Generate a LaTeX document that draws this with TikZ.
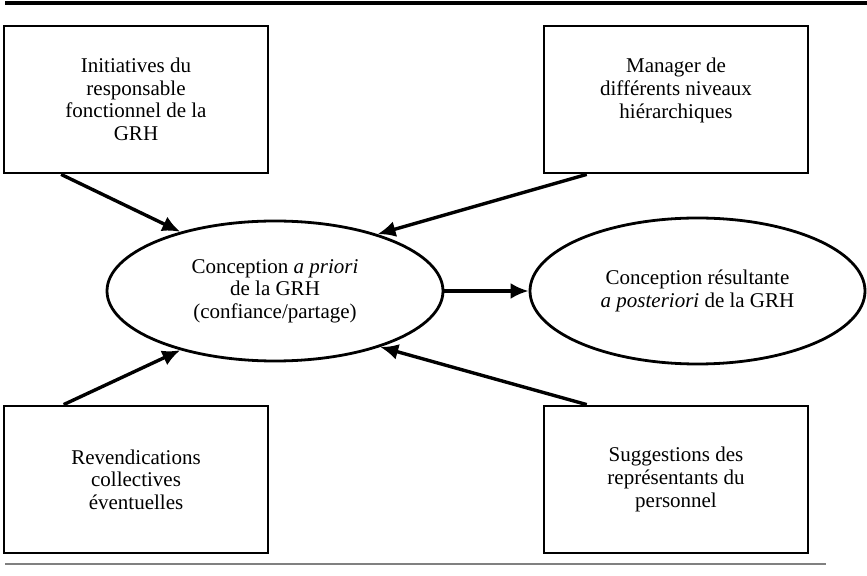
\documentclass[tikz,border=0pt]{standalone}
\usepackage{fontspec}
\setmainfont{Liberation Serif}
\usetikzlibrary{shapes, arrows.meta, positioning}
\tikzstyle{block} = [draw, fill=white, rectangle, line width=1.4pt, minimum width=132pt, minimum height=73.5pt, align=center]
\tikzstyle{oval} = [draw, ellipse, line width=1.4pt, inner sep=0pt, align=center]
\tikzstyle{link} = [->, line width=1.7pt]

\begin{document}
\begin{tikzpicture}[auto,node distance=.5cm,>={Latex[length=9pt,width=8pt]},font=\fontsize{10.5}{11.3}\selectfont]
  \useasboundingbox (0,0) rectangle (433.5pt,-288pt);
  % rules above and below
  \draw [line width=2pt] (2.5pt,-1.5pt) -- (433.5pt,-1.5pt);
  \draw [gray, line width=1pt] (2.5pt,-282pt) -- (413pt,-282pt);
  % the two conceptions
  \node [oval, minimum width=168pt, minimum height=70pt] (prior) at (137.5pt,-145.5pt) {Conception \textit{a priori}\\de la GRH\\(confiance/partage)};
  \node [oval, right of=prior, node distance=211.25pt, minimum width=167.5pt, minimum height=73pt] (posterior) {Conception résultante\\\textit{a posteriori} de la GRH};
  % the four sources
  \node [block, above of=prior, node distance=95.75pt, xshift=-69.5pt] (initiatives) {Initiatives du\\responsable\\fonctionnel de la\\GRH};
  \node [block, above of=prior, node distance=95.75pt, xshift=200.5pt] (managers) {Manager de\\différents niveaux\\hiérarchiques\\\mbox{}};
  \node [block, below of=prior, node distance=94.25pt, xshift=-69.5pt] (revendications) {Revendications\\collectives\\éventuelles};
  \node [block, below of=prior, node distance=94.25pt, xshift=200.5pt] (suggestions) {Suggestions des\\représentants du\\personnel};
  \draw [link] (initiatives.225) -- (prior.148);
  \draw [link] (managers.220) -- (prior.29);
  \draw [link] (revendications.134) -- (prior.212);
  \draw [link] (suggestions.140) -- (prior.332);
  \draw [link] (prior) -- (posterior);
\end{tikzpicture}
\end{document}
